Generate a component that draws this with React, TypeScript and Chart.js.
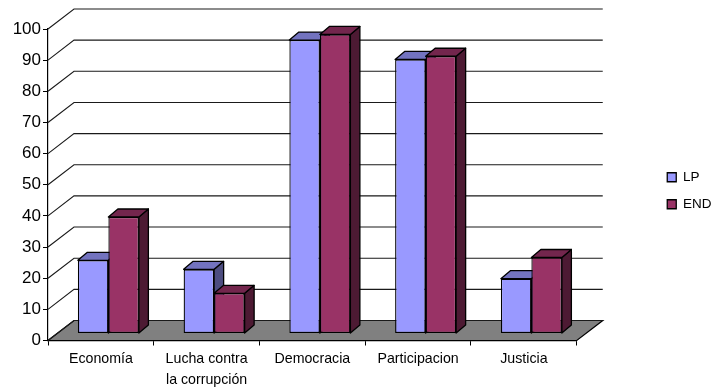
import React, { useEffect, useRef } from "react";
import { Chart, registerables } from "chart.js";

Chart.register(...registerables);

const categories = ["Economía", ["Lucha contra", "la corrupción"], "Democracia", "Participacion", "Justicia"];
const lpValues = [23.5, 20.6, 94.2, 88, 17.6];
const endValues = [37.4, 12.9, 96, 89, 24.4];
const yTicks = [0, 10, 20, 30, 40, 50, 60, 70, 80, 90, 100];

const LP_COLOR = "#9999FF";
const LP_TOP = "#7373BF";
const LP_SIDE = "#4D4D80";
const END_COLOR = "#993366";
const END_TOP = "#73264D";
const END_SIDE = "#4D1A33";
const FONT = "'Liberation Sans', Arial, sans-serif";

const WALL_DX = 26;
const WALL_DY = -20;
const BAR_DX = 7.5;
const BAR_DY = -7;
const DEPTH_DX = 9.5;
const DEPTH_DY = -8;

const poly = (ctx: CanvasRenderingContext2D, pts: number[][], fill: string | null, stroke: string, lw: number) => {
  ctx.beginPath();
  pts.forEach((p, i) => (i ? ctx.lineTo(p[0], p[1]) : ctx.moveTo(p[0], p[1])));
  if (fill) {
    ctx.closePath();
    ctx.fillStyle = fill;
    ctx.fill();
  }
  ctx.strokeStyle = stroke;
  ctx.lineWidth = lw;
  ctx.stroke();
};

const drawDepth = (chart: any, meta: any, index: number) => {
  const { ctx } = chart;
  const top = index === 0 ? LP_TOP : END_TOP;
  const side = index === 0 ? LP_SIDE : END_SIDE;
  ctx.lineJoin = "round";
  meta.data.forEach((el: any) => {
    const { x, y, base, width } = el.getProps(["x", "y", "base", "width"], true);
    const l = x - width / 2;
    const r = x + width / 2;
    poly(ctx, [[r, y], [r + DEPTH_DX, y + DEPTH_DY], [r + DEPTH_DX, base + DEPTH_DY], [r, base]], side, "#000", 1.3);
    poly(ctx, [[l, y], [l + DEPTH_DX, y + DEPTH_DY], [r + DEPTH_DX, y + DEPTH_DY], [r, y]], top, "#000", 1.3);
  });
};

// Chart.js paints the first dataset last; here LP goes first so END's faces overlap it.
const threeD = {
  id: "threeD",
  beforeDatasetsDraw(chart: any) {
    const { ctx, chartArea: a, scales } = chart;
    const y = scales.y;
    ctx.save();
    const y0 = y.getPixelForValue(0);
    poly(
      ctx,
      [
        [a.left, y0],
        [a.right, y0],
        [a.right + WALL_DX, y0 + WALL_DY],
        [a.left + WALL_DX, y0 + WALL_DY],
      ],
      "#808080",
      "#000",
      1.2
    );
    yTicks.forEach((t) => {
      const py = y.getPixelForValue(t);
      poly(
        ctx,
        [
          [a.left, py],
          [a.left + WALL_DX, py + WALL_DY],
          [a.right + WALL_DX, py + WALL_DY],
        ],
        null,
        "#1a1a1a",
        1.1
      );
    });
    ctx.restore();
  },
  beforeDatasetDraw(chart: any, args: any) {
    if (args.index === 1) return false;
    const { ctx } = chart;
    ctx.save();
    ctx.translate(BAR_DX, BAR_DY);
    drawDepth(chart, args.meta, 0);
    return true;
  },
  afterDatasetDraw(chart: any, args: any) {
    chart.ctx.restore();
    const { ctx } = chart;
    const meta = chart.getDatasetMeta(1);
    ctx.save();
    ctx.translate(BAR_DX, BAR_DY);
    drawDepth(chart, meta, 1);
    meta.controller.draw();
    ctx.restore();
  },
};

export default function App() {
  const ref = useRef<HTMLCanvasElement>(null);
  useEffect(() => {
    const chart = new Chart(ref.current as HTMLCanvasElement, {
      type: "bar",
      data: {
        labels: categories as any,
        datasets: [
          {
            label: "LP",
            data: lpValues,
            backgroundColor: LP_COLOR,
            borderColor: "#000",
            borderWidth: 1.3,
            borderSkipped: false,
            categoryPercentage: 0.577,
            barPercentage: 1,
            clip: false,
          },
          {
            label: "END",
            data: endValues,
            backgroundColor: END_COLOR,
            borderColor: "#000",
            borderWidth: 1.3,
            borderSkipped: false,
            categoryPercentage: 0.577,
            barPercentage: 1,
            clip: false,
          },
        ] as any,
      },
      options: {
        responsive: false,
        animation: false,
        layout: { padding: { top: 29, right: 3.5, bottom: 0, left: 0 } },
        plugins: {
          tooltip: { enabled: false },
          legend: {
            position: "right",
            fullSize: false,
            title: { display: true, text: " ", padding: 0, font: { family: FONT, size: 10 } },
            labels: {
              boxWidth: 9,
              boxHeight: 9,
              padding: 13.5,
              color: "#000",
              font: { family: FONT, size: 13.5 },
            },
          },
        },
        scales: {
          x: {
            offset: true,
            grid: { offset: true, drawOnChartArea: false, drawTicks: true, tickLength: 5, color: "#000" },
            border: { color: "#000", width: 1.2 },
            ticks: {
              color: "#000",
              font: { family: FONT, size: 14.2, lineHeight: 1.5 },
              padding: 3,
              maxRotation: 0,
              minRotation: 0,
              autoSkip: false,
            },
            afterFit: (s: any) => {
              s.height = 48.5;
            },
          },
          y: {
            min: 0,
            max: 100,
            grid: { drawOnChartArea: false, drawTicks: true, tickLength: 5, color: "#000" },
            border: { color: "#000", width: 1.2 },
            ticks: {
              stepSize: 10,
              color: "#000",
              padding: 2,
              font: { family: FONT, size: 17 },
            },
            afterFit: (s: any) => {
              s.width = 48;
            },
          },
          pad: {
            position: "right",
            display: true,
            grid: { display: false },
            border: { display: false },
            ticks: { display: false },
            afterFit: (s: any) => {
              s.width = 77;
            },
          },
        },
      } as any,
      plugins: [threeD as any],
    });
    return () => chart.destroy();
  }, []);
  return (
    <div style={{ position: "absolute", left: 0, top: 0, width: 725, height: 389, background: "#fff" }}>
      <canvas ref={ref} width={725} height={389} style={{ display: "block" }} />
    </div>
  );
}
